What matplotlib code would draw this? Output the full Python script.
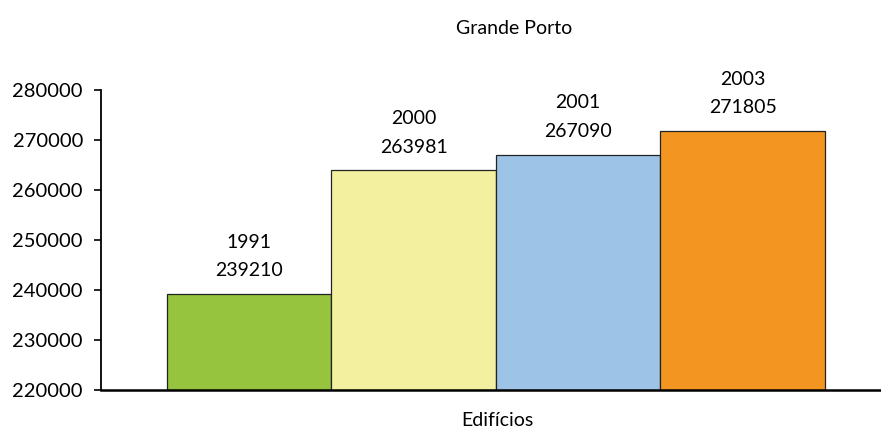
import matplotlib
matplotlib.use("Agg")
import matplotlib.pyplot as plt

years = ["1991", "2000", "2001", "2003"]
values = [239210, 263981, 267090, 271805]
colors = ["#97C43E", "#F3F0A0", "#9DC3E6", "#F39621"]
yticks = [220000, 230000, 240000, 250000, 260000, 270000, 280000]

plt.rcParams['font.family'] = ['Lato', 'DejaVu Sans']

fig = plt.figure(figsize=(8.81, 4.28), dpi=100)
ax = fig.add_axes([101/881, 38/428, 780/881, 300/428])

w = 164.5/780
n = len(values)
for i, (yr, v, c) in enumerate(zip(years, values, colors)):
    x = (i - (n-1)/2) * w
    ax.bar(x, v - 220000, bottom=220000, width=w, color=c, edgecolor="#222222", linewidth=0.9)
    ax.annotate(f"{yr}\n{v}", (x, v), xytext=(0, 10.5), textcoords="offset points",
                ha="center", va="bottom", fontsize=14, linespacing=1.82)

ax.set_xlim(-0.5064, 0.4936)
ax.set_ylim(220000, 280000)
ax.set_yticks(yticks)
ax.set_yticklabels([str(t) for t in yticks], fontsize=14.5)
ax.set_xticks([])
for s in ["top", "right"]:
    ax.spines[s].set_visible(False)
ax.spines["left"].set_linewidth(1.3)
ax.spines["bottom"].set_linewidth(1.8)
ax.tick_params(axis="y", direction="out", length=5, width=1.2, pad=8)

fig.text(514/881, 1 - 29/428, "Grande Porto", ha="center", va="center", fontsize=14)
fig.text(497/881, 1 - 420/428, "Edifícios", ha="center", va="center", fontsize=14)

fig.savefig("out.png", dpi=100)
